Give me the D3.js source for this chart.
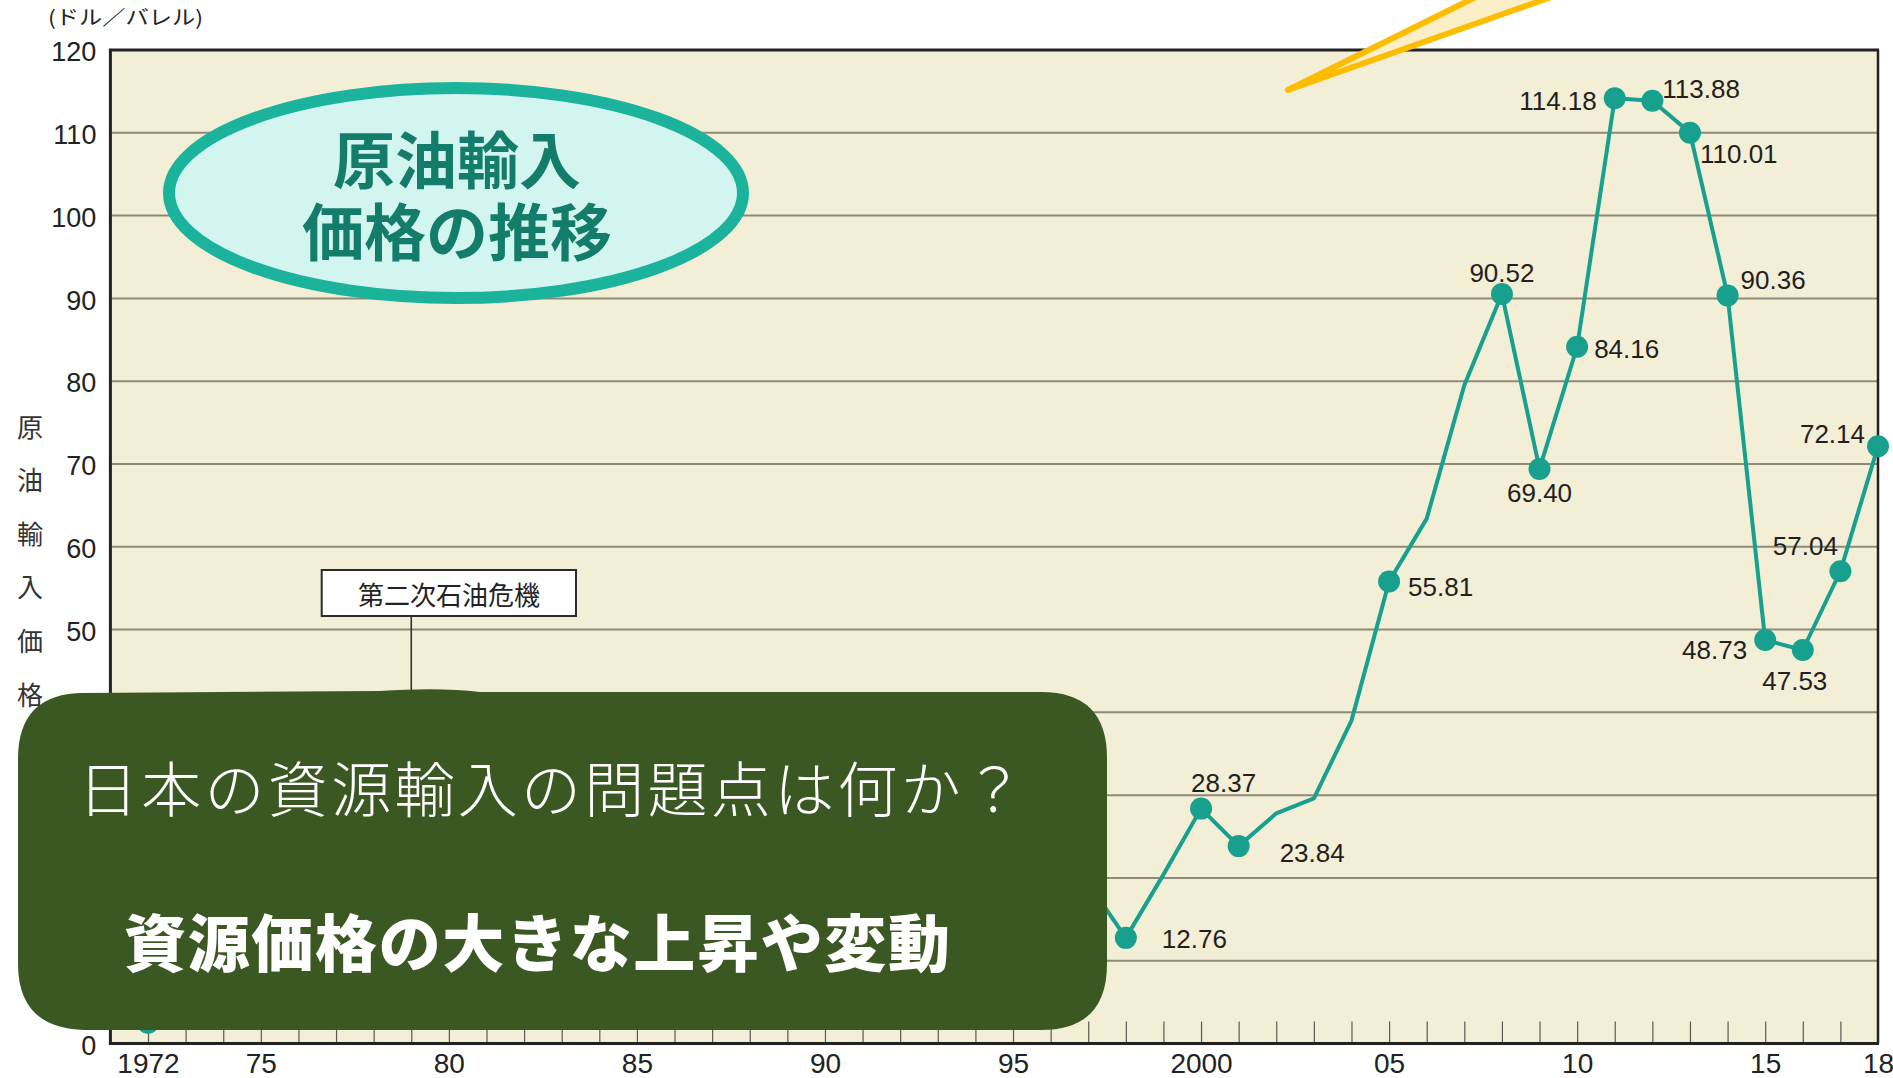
<!DOCTYPE html>
<html>
<head>
<meta charset="utf-8">
<script src="https://cdn.jsdelivr.net/npm/d3@7"></script>
<style>
  html, body { margin: 0; padding: 0; background: #ffffff; }
  svg { display: block; }
  text { font-family: "Liberation Sans", Arial, sans-serif; }
  .jp { font-family: "Noto Sans CJK JP", "Noto Sans", sans-serif; }
</style>
</head>
<body>
<svg id="chart" width="1893" height="1078"></svg>
<script>
// Japan crude oil import price, US dollars per barrel
const years = [
  1972, 1973, 1974, 1975, 1976, 1977, 1978, 1979, 1980, 1981,
  1982, 1983, 1984, 1985, 1986, 1987, 1988, 1989, 1990, 1991,
  1992, 1993, 1994, 1995, 1996, 1997, 1998, 1999, 2000, 2001,
  2002, 2003, 2004, 2005, 2006, 2007, 2008, 2009, 2010, 2011,
  2012, 2013, 2014, 2015, 2016, 2017, 2018
];
const prices = [
  2.52, 3.29, 11.19, 12.08, 12.63, 13.37, 13.52, 20.21, 32.97, 36.79,
  35.01, 30.52, 29.17, 27.98, 15.01, 18.12, 14.88, 17.62, 22.73, 19.94,
  19.04, 17.38, 16.25, 17.97, 21.04, 19.40, 12.76, 20.40, 28.37, 23.84,
  27.80, 29.60, 39.00, 55.81, 63.40, 79.50, 90.52, 69.40, 84.16, 114.18,
  113.88, 110.01, 90.36, 48.73, 47.53, 57.04, 72.14
];
// years whose value is marked with a dot
const markedYears = [1972, 1974, 1980, 1981, 1986, 1998, 2000, 2001, 2005, 2008, 2009,
                     2010, 2011, 2012, 2013, 2014, 2015, 2016, 2017, 2018];
const gridValues = [10, 20, 30, 40, 50, 60, 70, 80, 90, 100, 110];
const yTickValues = [0, 50, 60, 70, 80, 90, 100, 110, 120];
const xTickYears = [1972, 1975, 1980, 1985, 1990, 1995, 2000, 2005, 2010, 2015, 2018];
const xTickLabels = ["1972", "75", "80", "85", "90", "95", "2000", "05", "10", "15", "18"];
const yUnitLabel = "(ドル／バレル)";
const yAxisTitle = ["原", "油", "輸", "入", "価", "格"];
const titleLines = ["原油輸入", "価格の推移"];
const crisisYear = 1979;
const crisisLabel = "第二次石油危機";
const questionText = "日本の資源輸入の問題点は何か？";
const answerText = "資源価格の大きな上昇や変動";

const data = years.map((yr, i) => ({ year: yr, value: prices[i] }));

const svg = d3.select("#chart");
const plotL = 110.4, plotR = 1878, plotT = 50, plotB = 1043.5;

const x = d3.scaleLinear().domain([1971, 2018]).range([plotL, plotR]);
const y = d3.scaleLinear().domain([0, 120]).range([plotB, plotT]);

// plot background
svg.append("rect")
  .attr("x", plotL).attr("y", plotT)
  .attr("width", plotR - plotL).attr("height", plotB - plotT)
  .attr("fill", "#f3eed6");

// horizontal grid lines
svg.append("g")
  .selectAll("line")
  .data(gridValues)
  .join("line")
  .attr("x1", plotL).attr("x2", plotR)
  .attr("y1", d => y(d)).attr("y2", d => y(d))
  .attr("stroke", "#8e8a78")
  .attr("stroke-width", 2);

// yearly tick marks rising from the baseline
const yearTicks = d3.range(1972, 2018);
svg.append("g")
  .attr("transform", `translate(0,${plotB})`)
  .call(d3.axisBottom(x).tickValues(yearTicks).tickSize(-22).tickFormat(""))
  .call(g => g.select(".domain").remove())
  .call(g => g.selectAll(".tick line").attr("stroke", "#5a5a52").attr("stroke-width", 1.2));

// frame
const frame = svg.append("g").attr("stroke", "#222");
frame.append("line").attr("x1", plotL - 1.5).attr("x2", plotR + 1).attr("y1", plotT).attr("y2", plotT).attr("stroke-width", 3);
frame.append("line").attr("x1", plotL).attr("x2", plotL).attr("y1", plotT).attr("y2", plotB).attr("stroke-width", 3);
frame.append("line").attr("x1", plotL - 1.5).attr("x2", plotR + 1).attr("y1", plotB).attr("y2", plotB).attr("stroke-width", 3);
frame.append("line").attr("x1", plotR).attr("x2", plotR).attr("y1", plotT).attr("y2", plotB).attr("stroke-width", 2.5);

// price line
const teal = "#17a08e";
svg.append("path")
  .datum(data)
  .attr("fill", "none")
  .attr("stroke", teal)
  .attr("stroke-width", 4)
  .attr("stroke-linejoin", "round")
  .attr("d", d3.line().x(d => x(d.year)).y(d => y(d.value)));

const marked = data.filter(d => markedYears.includes(d.year));
svg.append("g")
  .selectAll("circle")
  .data(marked)
  .join("circle")
  .attr("cx", d => x(d.year))
  .attr("cy", d => y(d.value))
  .attr("r", 11)
  .attr("fill", teal);

// value labels placement around the dots
const labelPlacement = {
  1998: { anchor: "start",  dx: 36,  dy: 10 },
  2000: { anchor: "start",  dx: -10, dy: -17 },
  2001: { anchor: "start",  dx: 41,  dy: 16 },
  2005: { anchor: "start",  dx: 19,  dy: 15 },
  2008: { anchor: "middle", dx: 0,   dy: -12 },
  2009: { anchor: "middle", dx: 0,   dy: 33 },
  2010: { anchor: "start",  dx: 17,  dy: 11 },
  2011: { anchor: "end",    dx: -18, dy: 12 },
  2012: { anchor: "start",  dx: 10,  dy: -3 },
  2013: { anchor: "start",  dx: 10,  dy: 30 },
  2014: { anchor: "start",  dx: 13,  dy: -6 },
  2015: { anchor: "end",    dx: -18, dy: 19 },
  2016: { anchor: "middle", dx: -8,  dy: 40 },
  2017: { anchor: "middle", dx: -35, dy: -16 },
  2018: { anchor: "end",    dx: -13, dy: -3 }
};
svg.append("g")
  .selectAll("text")
  .data(marked.filter(d => labelPlacement[d.year]))
  .join("text")
  .attr("x", d => x(d.year) + labelPlacement[d.year].dx)
  .attr("y", d => y(d.value) + labelPlacement[d.year].dy)
  .attr("text-anchor", d => labelPlacement[d.year].anchor)
  .attr("font-size", 26)
  .attr("fill", "#231f1c")
  .text(d => d.value.toFixed(2));

// oil crisis annotation
const crisisValue = prices[years.indexOf(crisisYear)];
svg.append("line")
  .attr("x1", x(crisisYear)).attr("x2", x(crisisYear))
  .attr("y1", 616).attr("y2", y(crisisValue))
  .attr("stroke", "#333").attr("stroke-width", 1.6);
svg.append("rect")
  .attr("x", 321.7).attr("y", 570).attr("width", 254.3).attr("height", 46)
  .attr("fill", "#ffffff").attr("stroke", "#2a2a2a").attr("stroke-width", 2);
svg.append("text").attr("class", "jp")
  .attr("x", 449).attr("y", 593)
  .attr("dominant-baseline", "central")
  .attr("text-anchor", "middle")
  .attr("font-size", 26)
  .attr("fill", "#222")
  .text(crisisLabel);

// axis labels
svg.append("g")
  .attr("transform", `translate(${plotL},0)`)
  .call(d3.axisLeft(y).tickValues(yTickValues).tickSize(0).tickPadding(14))
  .call(g => g.select(".domain").remove())
  .call(g => g.selectAll("text")
    .attr("font-family", "'Liberation Sans', Arial, sans-serif")
    .attr("font-size", 27).attr("fill", "#222").attr("dy", "0.4em"));

svg.append("g")
  .attr("transform", `translate(0,${plotB})`)
  .call(d3.axisBottom(x).tickValues(xTickYears).tickSize(0).tickPadding(10)
    .tickFormat((d, i) => xTickLabels[i]))
  .call(g => g.select(".domain").remove())
  .call(g => g.selectAll("text")
    .attr("font-family", "'Liberation Sans', Arial, sans-serif")
    .attr("font-size", 28).attr("fill", "#222"));

svg.append("text").attr("class", "jp")
  .attr("x", 48).attr("y", 16)
  .attr("dominant-baseline", "central")
  .attr("font-size", 20)
  .attr("textLength", 155)
  .attr("lengthAdjust", "spacingAndGlyphs")
  .attr("fill", "#222")
  .text(yUnitLabel);

svg.append("g")
  .selectAll("text")
  .data(yAxisTitle)
  .join("text").attr("class", "jp")
  .attr("x", 30)
  .attr("y", (d, i) => 425 + i * 53.6)
  .attr("text-anchor", "middle")
  .attr("dominant-baseline", "central")
  .attr("font-size", 26)
  .attr("fill", "#333")
  .text(d => d);

// title badge
svg.append("ellipse")
  .attr("cx", 456).attr("cy", 193).attr("rx", 287).attr("ry", 105)
  .attr("fill", "#d3f5f0")
  .attr("stroke", "#1bb39c").attr("stroke-width", 12);
svg.append("text").attr("class", "jp")
  .attr("text-anchor", "middle")
  .attr("font-size", 62)
  .attr("font-weight", 700)
  .attr("fill", "#137c6a")
  .selectAll("tspan")
  .data(titleLines)
  .join("tspan")
  .attr("x", 457)
  .attr("y", (d, i) => 157 + i * 72)
  .attr("dominant-baseline", "central")
  .text(d => d);

// yellow pointer wedge at the top
const wedge = [[1490, -10], [1288, 90], [1571, -10]];
svg.append("path")
  .attr("d", d3.line()(wedge) + "Z")
  .attr("fill", "#fcefc8");
svg.append("path")
  .attr("d", d3.line()(wedge))
  .attr("fill", "none")
  .attr("stroke", "#fcbd00")
  .attr("stroke-width", 6)
  .attr("stroke-linejoin", "round");

// question panel
const bx0 = 18, bx1 = 1107, by0 = 692, by1 = 1030, rad = 66;
const panel = d3.path();
panel.moveTo(bx0 + rad, by0 + 1);
panel.lineTo(380, by0 - 1);
panel.quadraticCurveTo(440, by0 - 5, 480, by0);
panel.lineTo(bx1 - rad, by0);
panel.quadraticCurveTo(bx1, by0, bx1, by0 + rad);
panel.lineTo(bx1, by1 - rad);
panel.quadraticCurveTo(bx1, by1, bx1 - rad, by1);
panel.lineTo(bx0 + rad, by1);
panel.quadraticCurveTo(bx0, by1 - 2, bx0, by1 - rad);
panel.lineTo(bx0, by0 + rad + 1);
panel.quadraticCurveTo(bx0, by0 + 1, bx0 + rad, by0 + 1);
panel.closePath();
svg.append("path").attr("d", panel.toString()).attr("fill", "#3b5823");

svg.append("text").attr("class", "jp")
  .attr("x", 78).attr("y", 785)
  .attr("dominant-baseline", "central")
  .attr("font-size", 60)
  .attr("font-weight", 300)
  .attr("textLength", 946)
  .attr("fill", "#ffffff")
  .text(questionText);

svg.append("text").attr("class", "jp")
  .attr("x", 124).attr("y", 940)
  .attr("dominant-baseline", "central")
  .attr("font-size", 62)
  .attr("font-weight", 900)
  .attr("textLength", 826)
  .attr("fill", "#ffffff")
  .text(answerText);
</script>
</body>
</html>
